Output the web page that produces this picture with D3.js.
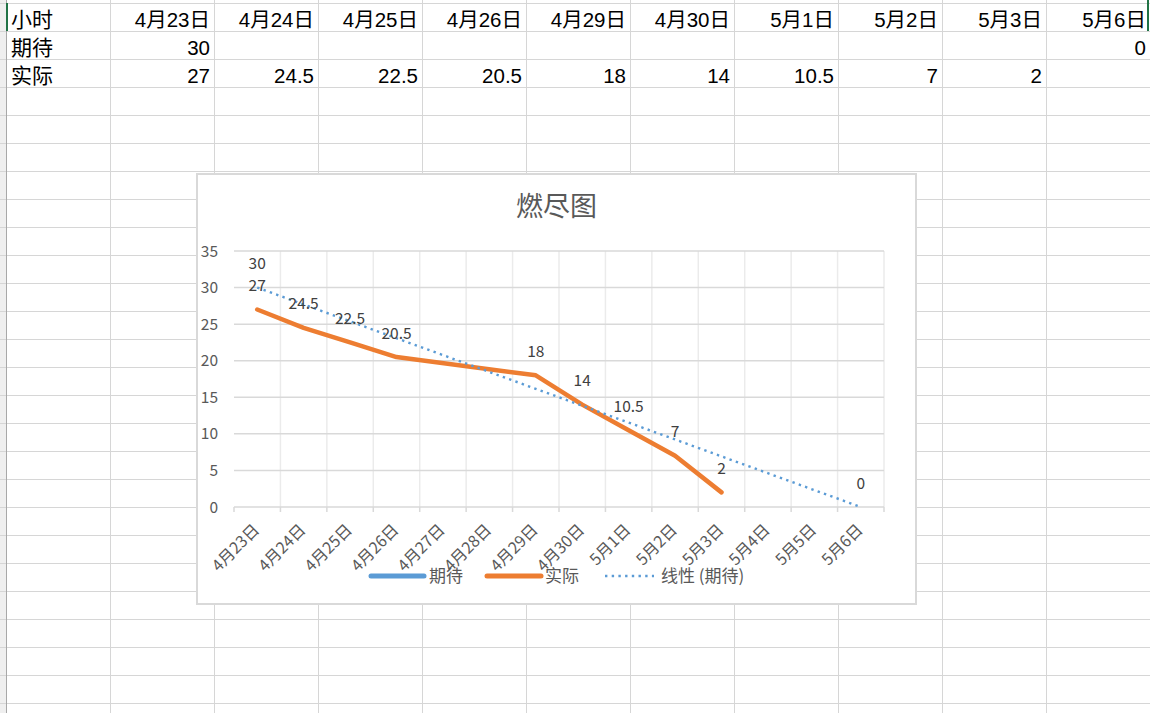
<!DOCTYPE html>
<html><head><meta charset="utf-8">
<script src="https://cdn.jsdelivr.net/npm/d3@7"></script>
<style>body{margin:0;background:#fff;} svg{display:block}</style>
</head><body><svg id="c" width="1150" height="713"></svg>
<script>
// ---------- data ----------
const rowLabels = ["小时", "期待", "实际"];
const tableDates = ["4月23日","4月24日","4月25日","4月26日","4月29日","4月30日","5月1日","5月2日","5月3日","5月6日"];
const expected = [30, null, null, null, null, null, null, null, null, 0];
const actual = [27, 24.5, 22.5, 20.5, 18, 14, 10.5, 7, 2, null];
const axisDates = ["4月23日","4月24日","4月25日","4月26日","4月27日","4月28日","4月29日","4月30日","5月1日","5月2日","5月3日","5月4日","5月5日","5月6日"];
const yTicks = [0, 5, 10, 15, 20, 25, 30, 35];
const chartTitle = "燃尽图";
const legendLabels = ["期待", "实际", "线性 (期待)"];

// ---------- sheet ----------
const svg = d3.select("#c");
const W = 1150, H = 713;
const colW = 104, col0 = 6, rowH = 28, row0 = 3;
const sheetFont = "'Liberation Sans', 'Noto Sans CJK SC', sans-serif";
const chartFont = "'Noto Sans CJK SC', 'Noto Sans', sans-serif";

const colEdges = d3.range(0, 12).map(i => col0 + i * colW);
const rowEdges = d3.range(0, Math.ceil((H - row0) / rowH) + 1).map(i => row0 + i * rowH);

svg.append("rect").attr("x", 0).attr("y", 0).attr("width", 6).attr("height", H).attr("fill", "#efefef");
const grid = svg.append("g").attr("stroke", "#d6d6d6").attr("stroke-width", 1);
grid.selectAll("line.h").data(rowEdges).join("line")
  .attr("x1", 0).attr("x2", W).attr("y1", d => d + 0.5).attr("y2", d => d + 0.5);
grid.selectAll("line.v").data(colEdges.slice(1)).join("line")
  .attr("y1", 0).attr("y2", H).attr("x1", d => d + 0.5).attr("x2", d => d + 0.5);
svg.append("line").attr("x1", 6.5).attr("x2", 6.5).attr("y1", 0).attr("y2", H).attr("stroke", "#a8a8a8");

// table text
const tableRows = [tableDates, expected, actual];
tableRows.forEach((vals, r) => {
  const base = row0 + (r + 1) * rowH - 4.5;
  svg.append("text").attr("x", 11).attr("y", base).text(rowLabels[r])
    .attr("font-family", sheetFont).attr("font-size", 21).attr("fill", "#000");
  vals.forEach((v, c) => {
    if (v === null) return;
    svg.append("text").attr("x", colEdges[c + 2] - 4).attr("y", base)
      .attr("text-anchor", "end").text(v)
      .attr("font-family", sheetFont).attr("font-size", 20.5).attr("fill", "#000");
  });
});
// selection borders
svg.append("line").attr("x1", 7).attr("x2", 7).attr("y1", 3).attr("y2", 31).attr("stroke", "#217346").attr("stroke-width", 2);
svg.append("line").attr("x1", 1148).attr("x2", 1148).attr("y1", 0).attr("y2", 31).attr("stroke", "#217346").attr("stroke-width", 2);

// ---------- chart ----------
const cx0 = 197, cy0 = 174, cw = 719, ch = 430;
svg.append("rect").attr("x", cx0).attr("y", cy0).attr("width", cw).attr("height", ch)
  .attr("fill", "#fff").attr("stroke", "#d9d9d9").attr("stroke-width", 2);

svg.append("text").attr("x", cx0 + cw / 2).attr("y", 216).attr("text-anchor", "middle")
  .attr("font-family", chartFont).attr("font-size", 27).attr("fill", "#595959").text(chartTitle);

const x = d3.scaleBand().domain(axisDates).range([234, 884]);
const y = d3.scaleLinear().domain([0, 35]).range([507, 251]);
const cxp = d => x(d) + x.bandwidth() / 2;

// vertical gridlines at band boundaries
const bounds = axisDates.map(d => x(d)).concat([x.range()[1]]);
svg.append("g").selectAll("line").data(bounds.slice(1)).join("line")
  .attr("x1", d => d).attr("x2", d => d).attr("y1", y(35)).attr("y2", y(0))
  .attr("stroke", "#ebebeb").attr("stroke-width", 1.5);
// horizontal gridlines
svg.append("g").selectAll("line").data(yTicks).join("line")
  .attr("x1", x.range()[0]).attr("x2", x.range()[1]).attr("y1", d => y(d)).attr("y2", d => y(d))
  .attr("stroke", "#d9d9d9").attr("stroke-width", 1.5);
// tick marks
svg.append("g").selectAll("line").data(bounds).join("line")
  .attr("x1", d => d).attr("x2", d => d).attr("y1", y(0)).attr("y2", y(0) + 5)
  .attr("stroke", "#d9d9d9").attr("stroke-width", 1.5);

// y tick labels
svg.append("g").selectAll("text").data(yTicks).join("text")
  .attr("x", 218).attr("y", d => y(d) + 5.5).attr("text-anchor", "end")
  .attr("font-family", chartFont).attr("font-size", 15.5).attr("fill", "#595959").text(d => d);

// x tick labels
svg.append("g").selectAll("text").data(axisDates).join("text")
  .attr("transform", d => `translate(${cxp(d) + 3},${y(0) + 24}) rotate(-45)`)
  .attr("text-anchor", "end")
  .attr("font-family", chartFont).attr("font-size", 16).attr("fill", "#595959").text(d => d);

// actual line
const actualPts = tableDates.map((d, i) => ({ d, v: actual[i] })).filter(p => p.v !== null);
const expectedPts = tableDates.map((d, i) => ({ d, v: expected[i] })).filter(p => p.v !== null);
svg.append("path").datum(actualPts)
  .attr("d", d3.line().x(p => cxp(p.d)).y(p => y(p.v)))
  .attr("fill", "none").attr("stroke", "#ed7d31").attr("stroke-width", 4.5)
  .attr("stroke-linecap", "round").attr("stroke-linejoin", "round");

// linear trendline of expected (least squares over axis day index)
const idx = expectedPts.map(p => axisDates.indexOf(p.d));
const vals = expectedPts.map(p => p.v);
const mx = d3.mean(idx), my = d3.mean(vals);
const slope = d3.sum(idx.map((t, i) => (t - mx) * (vals[i] - my))) / d3.sum(idx.map(t => (t - mx) ** 2));
const icpt = my - slope * mx;
const tStart = d3.min(idx), tEnd = d3.max(idx);
const trend = [tStart, tEnd].map(t => ({ d: axisDates[t], v: icpt + slope * t }));
svg.append("path").datum(trend)
  .attr("d", d3.line().x(p => cxp(p.d)).y(p => y(p.v)))
  .attr("fill", "none").attr("stroke", "#5b9bd5").attr("stroke-width", 2.4)
  .attr("stroke-dasharray", "2.4 4.3");

// data labels
const labelPts = expectedPts.concat(actualPts);
svg.append("g").selectAll("text").data(labelPts).join("text")
  .attr("x", p => cxp(p.d)).attr("y", p => y(p.v) - 18.5).attr("text-anchor", "middle")
  .attr("font-family", chartFont).attr("font-size", 15.5).attr("fill", "#404040").text(p => p.v);

// legend
const legendY = 576;
const leg = [
  { x1: 371, x2: 424, tx: 429, color: "#5b9bd5", dash: null, w: 5 },
  { x1: 487, x2: 541, tx: 545, color: "#ed7d31", dash: null, w: 5 },
  { x1: 605, x2: 654, tx: 661, color: "#5b9bd5", dash: "2.4 4.3", w: 2.4 }
];
leg.forEach((l, i) => {
  const ln = svg.append("line").attr("x1", l.x1).attr("x2", l.x2).attr("y1", legendY).attr("y2", legendY)
    .attr("stroke", l.color).attr("stroke-width", l.w);
  if (l.dash) ln.attr("stroke-dasharray", l.dash); else ln.attr("stroke-linecap", "round");
  svg.append("text").attr("x", l.tx).attr("y", legendY + 6).attr("font-family", chartFont)
    .attr("font-size", 17).attr("fill", "#595959").text(legendLabels[i]);
});
</script></body></html>
